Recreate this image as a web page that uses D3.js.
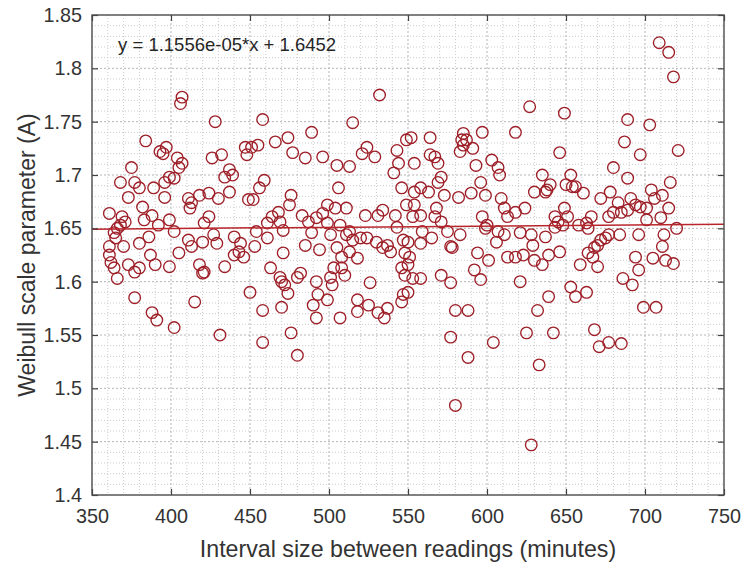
<!DOCTYPE html>
<html>
<head>
<meta charset="utf-8">
<script src="https://cdn.jsdelivr.net/npm/d3@7"></script>
<style>
  html, body { margin: 0; padding: 0; background: #ffffff; }
  svg { display: block; }
</style>
</head>
<body>
<div id="chart"></div>
<script>
// ---------------- data ----------------
const xValues = [
  407,406,428,384,397,393,395,447,448,375,404,407,405,426,432,437,439,434,399,402,
  396,368,377,380,389,373,396,411,413,412,418,424,430,437,449,382,361,369,371,368,
  366,388,383,399,392,402,424,421,427,364,365,361,370,380,386,411,413,420,429,440,
  444,443,446,440,361,362,364,366,387,390,373,377,380,399,405,418,420,421,434,377,
  415,388,391,402,431,450,
  532,458,515,489,466,474,451,455,524,521,529,477,485,496,505,513,543,544,541,549,
  459,456,452,506,476,546,475,468,464,461,499,504,511,534,531,542,523,549,483,487,
  492,496,499,507,513,543,454,461,453,471,469,489,485,501,511,515,520,524,530,534,
  537,539,547,548,494,505,508,513,518,471,463,469,470,472,474,482,480,492,493,490,
  492,501,503,502,508,510,499,458,470,458,476,480,507,518,518,526,525,531,535,537,
  547,546,546,548,
  627,649,552,564,585,584,583,591,597,618,646,564,567,569,554,593,603,607,608,635,
  640,630,637,571,569,558,554,563,596,590,599,573,582,650,649,609,611,618,624,613,
  554,558,553,568,567,571,597,600,599,643,645,648,643,583,575,559,565,607,611,606,
  621,628,637,550,558,551,550,577,578,629,646,594,601,613,618,623,630,635,639,553,
  558,571,577,592,596,621,550,580,588,639,632,577,604,625,642,588,633,580,628,587,
  585,
  709,715,718,689,703,687,697,721,680,689,716,653,656,661,672,678,691,694,697,701,
  704,706,711,683,680,677,685,689,651,666,701,710,715,658,664,663,720,684,696,677,
  675,672,670,668,712,711,664,667,670,659,694,696,705,713,718,686,692,653,656,663,
  699,707,668,671,677,685,654,638
];
const yValues = [
  1.773,1.767,1.750,1.732,1.726,1.722,1.720,1.726,1.719,1.707,1.716,1.711,1.707,1.716,1.719,1.705,1.700,1.698,1.698,1.697,
  1.693,1.693,1.693,1.688,1.688,1.679,1.679,1.678,1.674,1.669,1.681,1.683,1.678,1.684,1.677,1.670,1.664,1.661,1.656,1.653,
  1.650,1.662,1.658,1.658,1.653,1.647,1.661,1.655,1.644,1.646,1.641,1.633,1.633,1.636,1.642,1.639,1.633,1.637,1.636,1.642,
  1.636,1.628,1.623,1.625,1.625,1.618,1.613,1.603,1.625,1.616,1.616,1.609,1.613,1.614,1.627,1.616,1.608,1.609,1.614,1.585,
  1.581,1.571,1.564,1.557,1.550,1.590,
  1.775,1.752,1.749,1.740,1.731,1.735,1.726,1.728,1.726,1.720,1.717,1.721,1.716,1.717,1.709,1.708,1.723,1.711,1.702,1.733,
  1.695,1.688,1.677,1.688,1.681,1.688,1.672,1.665,1.661,1.655,1.672,1.669,1.669,1.667,1.662,1.662,1.662,1.672,1.662,1.656,
  1.660,1.664,1.655,1.653,1.647,1.651,1.647,1.641,1.633,1.648,1.656,1.646,1.634,1.644,1.644,1.639,1.641,1.641,1.637,1.632,
  1.634,1.628,1.639,1.627,1.630,1.632,1.623,1.628,1.622,1.627,1.613,1.604,1.600,1.597,1.589,1.608,1.604,1.600,1.588,1.578,
  1.566,1.604,1.613,1.597,1.613,1.606,1.583,1.573,1.576,1.543,1.552,1.531,1.566,1.583,1.572,1.599,1.578,1.571,1.566,1.575,
  1.588,1.581,1.613,1.606,
  1.764,1.758,1.735,1.735,1.739,1.733,1.722,1.725,1.740,1.740,1.721,1.719,1.717,1.711,1.711,1.709,1.714,1.707,1.700,1.700,
  1.691,1.684,1.684,1.698,1.693,1.688,1.684,1.684,1.693,1.683,1.681,1.681,1.679,1.691,1.669,1.678,1.669,1.665,1.669,1.661,
  1.672,1.662,1.661,1.669,1.661,1.656,1.661,1.653,1.650,1.661,1.656,1.653,1.651,1.644,1.647,1.647,1.641,1.647,1.644,1.637,
  1.646,1.644,1.642,1.637,1.636,1.623,1.616,1.633,1.632,1.634,1.628,1.627,1.620,1.623,1.623,1.625,1.620,1.616,1.625,1.603,
  1.603,1.606,1.599,1.611,1.602,1.600,1.590,1.573,1.573,1.586,1.573,1.548,1.543,1.552,1.552,1.529,1.522,1.484,1.447,1.733,
  1.728,
  1.824,1.815,1.792,1.752,1.747,1.731,1.719,1.723,1.707,1.697,1.693,1.700,1.689,1.683,1.678,1.684,1.678,1.672,1.670,1.669,
  1.686,1.678,1.681,1.674,1.665,1.661,1.665,1.667,1.661,1.661,1.658,1.660,1.669,1.653,1.650,1.655,1.650,1.644,1.644,1.644,
  1.641,1.639,1.634,1.632,1.644,1.633,1.627,1.623,1.614,1.616,1.623,1.611,1.622,1.620,1.617,1.603,1.597,1.595,1.586,1.590,
  1.576,1.576,1.555,1.539,1.543,1.542,1.689,1.686
];
const fitSlope = 1.1556e-05;
const fitIntercept = 1.6452;
const fitLabel = "y = 1.1556e-05*x + 1.6452";
const xTicks = [350, 400, 450, 500, 550, 600, 650, 700, 750];
const yTicks = [1.4, 1.45, 1.5, 1.55, 1.6, 1.65, 1.7, 1.75, 1.8, 1.85];
const xLabel = "Interval size between readings (minutes)";
const yLabel = "Weibull scale parameter (A)";

// ---------------- layout ----------------
const W = 745, H = 566;
const m = { left: 92, right: 21, top: 15, bottom: 71 };
const iw = W - m.left - m.right, ih = H - m.top - m.bottom;

const svg = d3.select("#chart").append("svg")
  .attr("width", W).attr("height", H)
  .style("font-family", "'Liberation Sans', Arial, Helvetica, sans-serif");

svg.append("rect").attr("width", W).attr("height", H).attr("fill", "#ffffff");

const x = d3.scaleLinear().domain([350, 750]).range([0, iw]);
const y = d3.scaleLinear().domain([1.4, 1.85]).range([ih, 0]);

const g = svg.append("g").attr("transform", `translate(${m.left},${m.top})`);

// minor grid
const xMinor = d3.range(360, 750, 10).filter(v => v % 50 !== 0);
const yMinor = d3.range(141, 185, 1).map(v => v / 100).filter(v => Math.round(v * 100) % 5 !== 0);
g.append("g").selectAll("line").data(xMinor).join("line")
  .attr("x1", d => x(d)).attr("x2", d => x(d)).attr("y1", 0).attr("y2", ih)
  .attr("stroke", "#cacaca").attr("stroke-width", 1).attr("stroke-dasharray", "1,2");
g.append("g").selectAll("line").data(yMinor).join("line")
  .attr("y1", d => y(d)).attr("y2", d => y(d)).attr("x1", 0).attr("x2", iw)
  .attr("stroke", "#cacaca").attr("stroke-width", 1).attr("stroke-dasharray", "1,2");
// major grid
g.append("g").selectAll("line").data(xTicks.slice(1, -1)).join("line")
  .attr("x1", d => x(d)).attr("x2", d => x(d)).attr("y1", 0).attr("y2", ih)
  .attr("stroke", "#b5b5b5").attr("stroke-width", 1).attr("stroke-dasharray", "2,2");
g.append("g").selectAll("line").data(yTicks.slice(1, -1)).join("line")
  .attr("y1", d => y(d)).attr("y2", d => y(d)).attr("x1", 0).attr("x2", iw)
  .attr("stroke", "#b5b5b5").attr("stroke-width", 1).attr("stroke-dasharray", "2,2");

// points
const pts = xValues.map((v, i) => [v, yValues[i]]);
g.append("g").selectAll("circle").data(pts).join("circle")
  .attr("cx", d => x(d[0])).attr("cy", d => y(d[1])).attr("r", 5.8)
  .attr("fill", "none").attr("stroke", "#9e1f28").attr("stroke-width", 1.35);

// fit line
const fitXs = [350, 750];
g.append("line")
  .attr("x1", x(fitXs[0])).attr("y1", y(fitSlope * fitXs[0] + fitIntercept))
  .attr("x2", x(fitXs[1])).attr("y2", y(fitSlope * fitXs[1] + fitIntercept))
  .attr("stroke", "#b8262c").attr("stroke-width", 1.5);

// axes (ticks inward, all four sides)
const tickColor = "#404040";
const fmtY = d => d3.format("")(d);
const axB = g.append("g").attr("transform", `translate(0,${ih})`)
  .call(d3.axisBottom(x).tickValues(xTicks).tickSize(-6).tickPadding(14).tickFormat(d3.format("d")));
const axL = g.append("g")
  .call(d3.axisLeft(y).tickValues(yTicks).tickSize(-6).tickPadding(10).tickFormat(fmtY));
const axT = g.append("g")
  .call(d3.axisTop(x).tickValues(xTicks).tickSize(-6).tickFormat(""));
const axR = g.append("g").attr("transform", `translate(${iw},0)`)
  .call(d3.axisRight(y).tickValues(yTicks).tickSize(-6).tickFormat(""));
[axB, axL, axT, axR].forEach(a => {
  a.select(".domain").remove();
  a.selectAll(".tick line").attr("stroke", tickColor).attr("stroke-width", 1.2);
  a.selectAll(".tick text").attr("fill", "#333333").style("font-size", "19.8px")
    .style("font-family", "'Liberation Sans', Arial, Helvetica, sans-serif");
});

// box
g.append("rect").attr("x", 0).attr("y", 0).attr("width", iw).attr("height", ih)
  .attr("fill", "none").attr("stroke", "#4a4a4a").attr("stroke-width", 1.4);

// equation text
g.append("text").attr("x", x(366.5)).attr("y", y(1.8165))
  .attr("fill", "#262626").style("font-size", "18.5px").text(fitLabel);

// axis labels
svg.append("text").attr("x", m.left + iw / 2).attr("y", 557)
  .attr("text-anchor", "middle").attr("fill", "#333333").style("font-size", "23.2px").text(xLabel);
svg.append("text").attr("transform", `translate(35,${m.top + ih / 2}) rotate(-90)`)
  .attr("text-anchor", "middle").attr("fill", "#333333").style("font-size", "23px").text(yLabel);
</script>
</body>
</html>
